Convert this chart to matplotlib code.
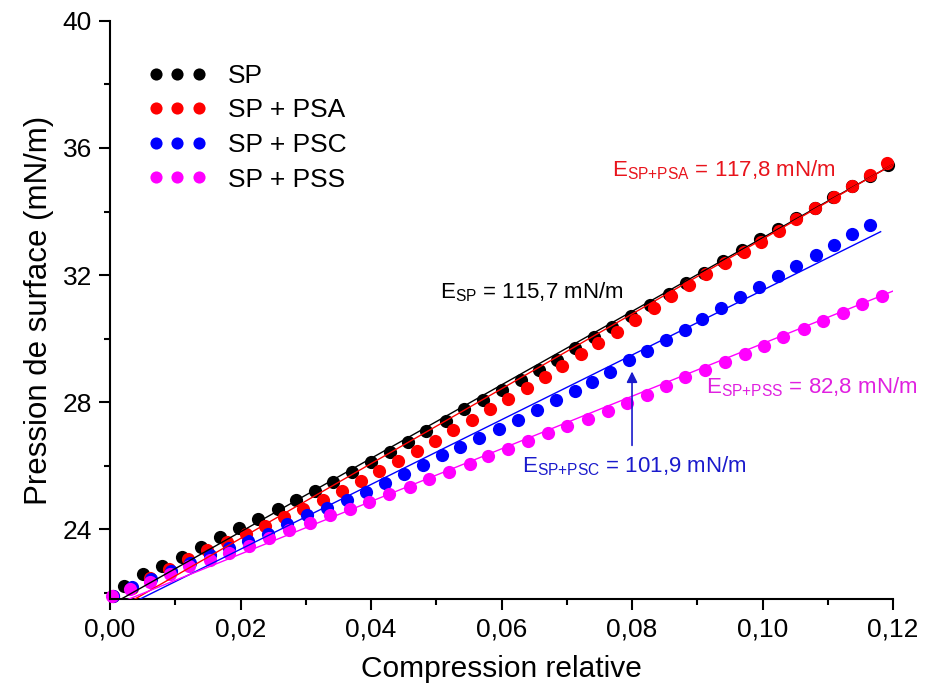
import matplotlib
matplotlib.use("Agg")
import matplotlib.pyplot as plt
from matplotlib.ticker import FuncFormatter, MultipleLocator

plt.rcParams["font.family"] = ["Liberation Sans", "DejaVu Sans"]
plt.rcParams["mathtext.fontset"] = "custom"
plt.rcParams["mathtext.rm"] = "Liberation Sans"
plt.rcParams["mathtext.it"] = "Liberation Sans"

# data
sp_x = [0.0022, 0.0051, 0.0080, 0.0110, 0.0139, 0.0169, 0.0198, 0.0227, 0.0257, 0.0285,
        0.0314, 0.0342, 0.0371, 0.0400, 0.0429, 0.0457, 0.0485, 0.0515, 0.0543, 0.0572,
        0.0601, 0.0630, 0.0658, 0.0685, 0.0713, 0.0741, 0.0769, 0.0798, 0.0827, 0.0856,
        0.0883, 0.0911, 0.0940, 0.0968, 0.0996, 0.1024, 0.1052, 0.1080, 0.1108, 0.1137,
        0.1165, 0.1193]
sp_y = [22.20, 22.58, 22.83, 23.13, 23.44, 23.74, 24.03, 24.32, 24.63, 24.91,
        25.21, 25.49, 25.79, 26.10, 26.43, 26.75, 27.09, 27.41, 27.77, 28.08,
        28.38, 28.69, 29.01, 29.34, 29.69, 30.04, 30.37, 30.70, 31.05, 31.40,
        31.74, 32.07, 32.44, 32.79, 33.12, 33.45, 33.79, 34.12, 34.46, 34.79,
        35.12, 35.46]

psa_x = [0.0004, 0.0033, 0.0062, 0.0091, 0.0120, 0.0149, 0.0179, 0.0208, 0.0237, 0.0267,
         0.0296, 0.0326, 0.0355, 0.0384, 0.0412, 0.0442, 0.0470, 0.0498, 0.0526, 0.0555,
         0.0582, 0.0610, 0.0639, 0.0666, 0.0693, 0.0722, 0.0748, 0.0777, 0.0805, 0.0833,
         0.0860, 0.0887, 0.0914, 0.0943, 0.0971, 0.0997, 0.1025, 0.1052, 0.1080, 0.1109,
         0.1137, 0.1164, 0.1191]
psa_y = [21.88, 22.16, 22.46, 22.76, 23.05, 23.33, 23.58, 23.84, 24.09, 24.38,
         24.63, 24.91, 25.20, 25.51, 25.83, 26.14, 26.46, 26.78, 27.12, 27.45,
         27.77, 28.09, 28.43, 28.80, 29.13, 29.50, 29.87, 30.21, 30.58, 30.95,
         31.35, 31.70, 32.03, 32.37, 32.71, 33.05, 33.40, 33.75, 34.10, 34.45,
         34.81, 35.15, 35.54]

psc_x = [0.0004, 0.0034, 0.0063, 0.0093, 0.0123, 0.0153, 0.0182, 0.0212, 0.0242, 0.0272,
         0.0302, 0.0333, 0.0363, 0.0392, 0.0421, 0.0451, 0.0480, 0.0509, 0.0537, 0.0566,
         0.0596, 0.0625, 0.0654, 0.0684, 0.0712, 0.0739, 0.0766, 0.0795, 0.0823, 0.0852,
         0.0881, 0.0908, 0.0937, 0.0966, 0.0995, 0.1024, 0.1052, 0.1082, 0.1109, 0.1137,
         0.1164]
psc_y = [21.90, 22.17, 22.42, 22.67, 22.93, 23.18, 23.40, 23.62, 23.86, 24.17,
         24.44, 24.66, 24.91, 25.17, 25.46, 25.73, 26.02, 26.33, 26.59, 26.88,
         27.14, 27.43, 27.75, 28.06, 28.36, 28.64, 28.95, 29.32, 29.60, 29.96,
         30.27, 30.63, 30.96, 31.30, 31.62, 31.97, 32.29, 32.63, 32.94, 33.28,
         33.58]

pss_x = [0.0003, 0.0031, 0.0061, 0.0092, 0.0121, 0.0153, 0.0183, 0.0213, 0.0244, 0.0275,
         0.0306, 0.0337, 0.0368, 0.0397, 0.0428, 0.0459, 0.0489, 0.0520, 0.0551, 0.0580,
         0.0610, 0.0641, 0.0671, 0.0701, 0.0733, 0.0763, 0.0792, 0.0823, 0.0852, 0.0881,
         0.0912, 0.0943, 0.0973, 0.1003, 0.1032, 0.1063, 0.1092, 0.1123, 0.1152, 0.1183]
pss_y = [21.89, 22.13, 22.34, 22.58, 22.83, 23.04, 23.25, 23.47, 23.72, 23.96,
         24.20, 24.44, 24.64, 24.86, 25.10, 25.33, 25.57, 25.79, 26.04, 26.30,
         26.53, 26.78, 27.03, 27.24, 27.47, 27.73, 27.98, 28.22, 28.50, 28.78,
         29.01, 29.27, 29.51, 29.77, 30.04, 30.29, 30.55, 30.81, 31.08, 31.34]

# linear fits: slope (mN/m), intercept, end of fitted range
fit_slope = [115.7, 117.8, 101.9, 82.8]
fit_icpt = [21.60, 21.35, 21.33, 21.56]
fit_end = [0.1198, 0.1198, 0.1181, 0.1200]

labels = ["SP", "SP + PSA", "SP + PSC", "SP + PSS"]
colors = ["black", "#ff0000", "#0000ff", "#ff00ff"]
series = [(sp_x, sp_y), (psa_x, psa_y), (psc_x, psc_y), (pss_x, pss_y)]

fig = plt.figure(figsize=(9.26, 6.98), dpi=100)
ax = fig.add_axes([0.1188, 0.1418, 0.8456, 0.8282])

for (xs, ys), c, lab in zip(series, colors, labels):
    ax.plot(xs, ys, "o", color=c, ms=9.5, mec="none", label=lab, clip_on=False, zorder=2)

for slope, b, xe, c in zip(fit_slope, fit_icpt, fit_end, colors):
    ax.plot([0, xe], [b, b + slope * xe], color=c, lw=1.0, zorder=3)

ax.set_xlim(0, 0.12)
ax.set_ylim(21.8, 40)
ax.xaxis.set_major_locator(MultipleLocator(0.02))
ax.xaxis.set_minor_locator(MultipleLocator(0.01))
ax.yaxis.set_major_locator(MultipleLocator(4))
ax.yaxis.set_minor_locator(MultipleLocator(2))
ax.xaxis.set_major_formatter(FuncFormatter(lambda v, p: f"{v:.2f}".replace(".", ",")))
ax.yaxis.set_major_formatter(FuncFormatter(lambda v, p: f"{v:.0f}"))

for s in ("top", "right"):
    ax.spines[s].set_visible(False)
for s in ("left", "bottom"):
    ax.spines[s].set_linewidth(1.5)
ax.tick_params(which="major", direction="out", length=8, width=1.5, labelsize=19, pad=5)
ax.tick_params(which="minor", direction="out", length=4.5, width=1.5)

ax.set_xlabel("Compression relative", fontsize=21.5, labelpad=10)
ax.set_ylabel("Pression de surface (mN/m)", fontsize=22.5, labelpad=6)

ax.legend(loc="upper left", bbox_to_anchor=(0.035, 0.944), numpoints=3, frameon=False,
          fontsize=19, handlelength=2.23, handletextpad=0.8, labelspacing=0.4,
          borderaxespad=0.0, markerscale=0.92)

ax.text(0.0506, 31.46, r"E$_{\mathrm{SP}}$ = 115,7 mN/m", color="black", fontsize=16, va="center")
ax.text(0.0769, 35.31, r"E$_{\mathrm{SP{+}PSA}}$ = 117,8 mN/m", color="#e8141c", fontsize=16, va="center")
ax.text(0.0913, 28.47, r"E$_{\mathrm{SP{+}PSS}}$ = 82,8 mN/m", color="#e020e0", fontsize=16, va="center")
ax.text(0.0631, 25.98, r"E$_{\mathrm{SP{+}PSC}}$ = 101,9 mN/m", color="#1a1acc", fontsize=16, va="center")

ax.annotate("", xy=(0.0800, 29.05), xytext=(0.0800, 26.55),
            arrowprops=dict(arrowstyle="-|>", color="#1a1acc", lw=1.2, mutation_scale=16))

fig.savefig("out.png", dpi=100)
